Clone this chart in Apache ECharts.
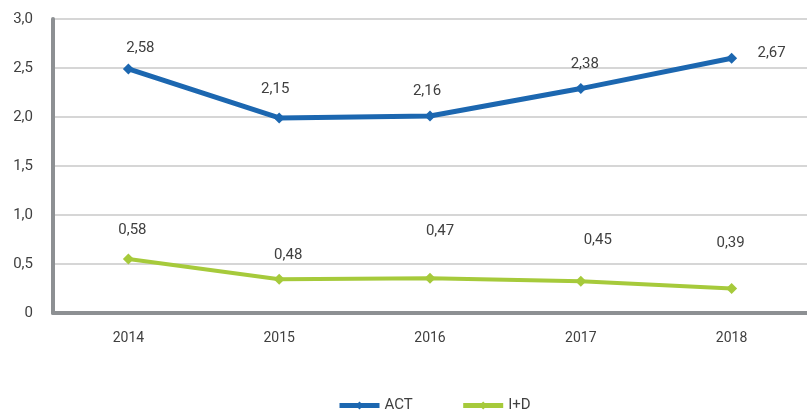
<!DOCTYPE html>
<html>
<head>
<meta charset="utf-8">
<script src="https://cdn.jsdelivr.net/npm/echarts@6/dist/echarts.min.js"></script>
<style>
  html, body { margin: 0; padding: 0; background: #fff; }
  #chart { width: 807px; height: 420px; }
</style>
</head>
<body>
<div id="chart"></div>
<script>
const years = ['2014', '2015', '2016', '2017', '2018']
// plotted positions as drawn in the picture
const actValues = [2.49, 1.99, 2.01, 2.29, 2.60]
const idValues = [0.55, 0.345, 0.355, 0.325, 0.25]
// printed data labels
const actLabels = ['2,58', '2,15', '2,16', '2,38', '2,67']
const idLabels = ['0,58', '0,48', '0,47', '0,45', '0,39']

// label nudges (style only)
const actOffsets = [[12, 0], [-4, -8], [-3, -4], [4, -3], [40, 16]]
const idOffsets = [[4, -8], [9, -3], [10, -26], [17, -20], [-1, -24]]

const font = 'Roboto, "Liberation Sans", sans-serif'
const textColor = '#404040'
const blue = '#1c67b0'
const green = '#a6ca3b'

const mkData = (vals, labels, offsets) => vals.map((v, i) => ({
  value: v,
  label: { offset: offsets[i], formatter: labels[i] },
}))

const chart = echarts.init(document.getElementById('chart'))
chart.setOption({
  animation: false,
  backgroundColor: '#fff',
  grid: { left: 53, right: 0, top: 19, bottom: 107 },
  legend: {
    bottom: 2,
    left: 332,
    itemWidth: 40,
    itemHeight: 10,
    itemGap: 48,
    lineStyle: { width: 5 },
    textStyle: { fontFamily: font, fontSize: 15, color: textColor },
    data: ['ACT', 'I+D'],
  },
  xAxis: {
    type: 'category',
    data: years,
    boundaryGap: true,
    axisLine: { lineStyle: { color: '#8d9093', width: 4 } },
    axisTick: { show: false },
    axisLabel: { fontFamily: font, fontSize: 14, color: textColor, margin: 18 },
  },
  yAxis: {
    type: 'value',
    min: 0,
    max: 3,
    interval: 0.5,
    axisLine: { show: true, lineStyle: { color: '#8d9093', width: 4 } },
    axisTick: { show: false },
    splitLine: { lineStyle: { color: '#d6d6d6', width: 2 } },
    axisLabel: {
      fontFamily: font,
      fontSize: 15,
      color: textColor,
      margin: 20,
      formatter: v => v === 0 ? '0' : v.toFixed(1).replace('.', ','),
    },
  },
  series: [
    {
      name: 'ACT',
      type: 'line',
      data: mkData(actValues, actLabels, actOffsets),
      symbol: 'diamond',
      symbolSize: 11,
      lineStyle: { color: blue, width: 5 },
      itemStyle: { color: blue },
      label: { show: true, position: 'top', distance: 8, fontFamily: font, fontSize: 15, color: textColor },
    },
    {
      name: 'I+D',
      type: 'line',
      data: mkData(idValues, idLabels, idOffsets),
      symbol: 'diamond',
      symbolSize: 11,
      lineStyle: { color: green, width: 4 },
      itemStyle: { color: green },
      label: { show: true, position: 'top', distance: 8, fontFamily: font, fontSize: 15, color: textColor },
    },
  ],
})
</script>
</body>
</html>
